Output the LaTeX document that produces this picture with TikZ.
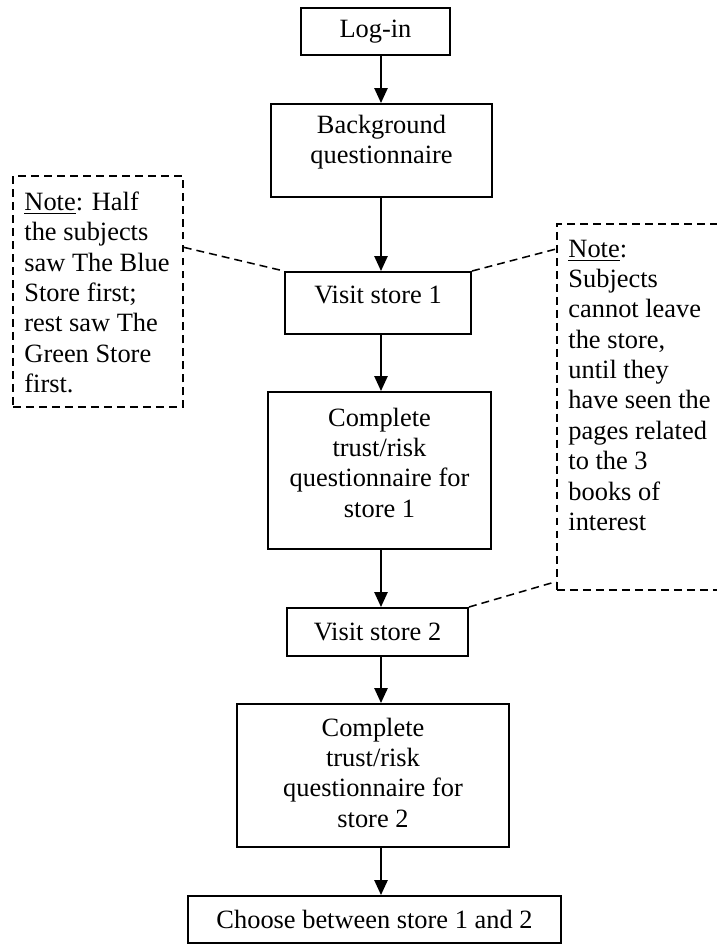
\documentclass[tikz,border=0pt]{standalone}
\usepackage{fontspec}
\setmainfont{Liberation Serif}
\usetikzlibrary{calc, positioning, arrows.meta, fit}
\newcommand{\px}{0.4545pt}
\newcommand{\lowpad}[1]{\rule[-#1]{0pt}{#1}}

\begin{document}
\begin{tikzpicture}[x=\px, y=-\px, font=\fontsize{12}{13.8}\selectfont,
  stepbox/.style 2 args={draw, line width=0.9pt, align=center, inner sep=2pt,
    minimum width=#1*\px, minimum height=#2*\px},
  flow/.style={-{Triangle[length=6.8pt, width=6pt]}, line width=0.9pt},
  notetext/.style={anchor=north west, align=left, inner xsep=5pt, inner ysep=7pt},
  notebox/.style={draw, line width=0.7pt, dash pattern=on 3.6pt off 2.3pt, inner sep=0pt},
  noteline/.style={line width=0.7pt, dash pattern=on 3.6pt off 2.3pt}]
  \useasboundingbox (0,0) rectangle (717,945);

  % Main sequence
  \node[stepbox={149}{47}] (login) at (375.5,31.5) {Log-in};
  \node[stepbox={221}{93}] (bgq) at (381.5,150.5) {Background\\questionnaire\lowpad{10pt}};
  \node[stepbox={186}{62}] (visit1) at (378,303) {Visit store 1\lowpad{7.3pt}};
  \node[stepbox={223}{157}] (trust1) at (379.5,470.5) {Complete\\trust/risk\\questionnaire for\\store 1\lowpad{7.3pt}};
  \node[stepbox={181}{48}] (visit2) at (377.5,632) {Visit store 2};
  \node[stepbox={272}{143}] (trust2) at (373,775.5) {Complete\\trust/risk\\questionnaire for\\store 2\lowpad{2.7pt}};
  \node[stepbox={373}{47}] (choose) at (374.5,919.5) {Choose between store 1 and 2};

  \coordinate (spine) at (381,0);
  \foreach \a/\b in {login/bgq, bgq/visit1, visit1/trust1, trust1/visit2, visit2/trust2, trust2/choose}
    \draw[flow] (spine |- \a.south) -- (spine |- \b.north);

  % Notes
  \node[notetext] (lnotetxt) at (13,176) {\underline{Note}: Half\\the subjects\\saw The Blue\\Store first;\\rest saw The\\Green Store\\first.};
  \coordinate (lcorner) at (183,407);
  \node[notebox, fit=(lnotetxt.north west)(lcorner)] (lnote) {};

  \node[notetext] (rnotetxt) at (557,224) {\underline{Note}:\\Subjects\\cannot leave\\the store,\\until they\\have seen the\\pages related\\to the 3\\books of\\interest};
  \coordinate (rcorner) at (740,590);
  \begin{scope}
    \clip (0,0) rectangle (717,945);
    \node[notebox, fit=(rnotetxt.north west)(rcorner)] (rnote) {};
  \end{scope}

  \draw[noteline] ($(lnote.north east)!0.31!(lnote.south east)$) -- (visit1.north west);
  \draw[noteline] (visit1.north east) -- ($(rnote.north west)!0.07!(rnote.south west)$);
  \draw[noteline] (visit2.north east) -- ($(rnote.north west)!0.975!(rnote.south west)$);
\end{tikzpicture}
\end{document}
